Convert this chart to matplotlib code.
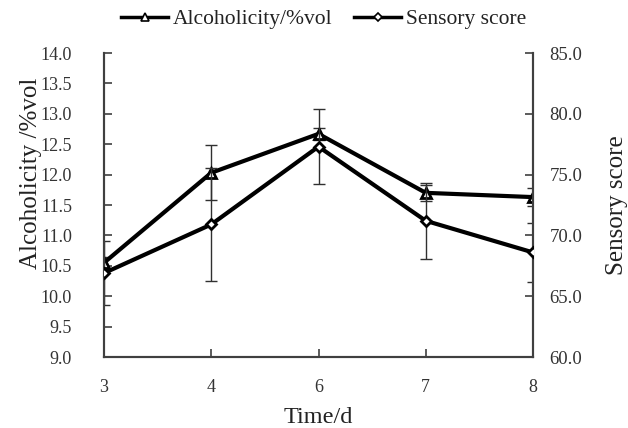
import matplotlib
matplotlib.use("Agg")
import matplotlib.pyplot as plt
from matplotlib.lines import Line2D

plt.rcParams['font.family'] = ['Liberation Serif', 'DejaVu Serif']

days = ['3', '4', '6', '7', '8']
alcohol = [10.55, 12.03, 12.67, 11.70, 11.63]
alcohol_err = [0.10, 0.45, 0.10, 0.13, 0.15]
sensory = [66.9, 70.9, 77.3, 71.2, 68.6]
sensory_err = [2.6, 4.65, 3.1, 3.1, 2.4]

left_ticks = [9.0, 9.5, 10.0, 10.5, 11.0, 11.5, 12.0, 12.5, 13.0, 13.5, 14.0]
right_ticks = [60.0, 65.0, 70.0, 75.0, 80.0, 85.0]

fig = plt.figure(figsize=(6.28, 4.28), dpi=100)
ax = fig.add_axes([104/628, 1-357/428, (533-104)/628, (357-53)/428])
ax2 = ax.twinx()

x = list(range(len(days)))
spine_c = '#404040'
err_c = '#303030'

ax2.errorbar(x, sensory, yerr=sensory_err, fmt='none', ecolor=err_c,
             elinewidth=1.0, capsize=4.5, capthick=1.0, zorder=2)
ax2.plot(x, sensory, color='black', lw=3.0, marker='D', ms=5.5,
         mfc='white', mec='black', mew=2.0, zorder=3)

ax.errorbar(x, alcohol, yerr=alcohol_err, fmt='none', ecolor=err_c,
            elinewidth=1.0, capsize=4.5, capthick=1.0, zorder=2)
ax.plot(x, alcohol, color='black', lw=3.0, marker='^', ms=7,
        mfc='white', mec='black', mew=2.0, zorder=3)

ax.set_xlim(0, len(days)-1)
ax.set_ylim(9.0, 14.0)
ax2.set_ylim(60.0, 85.0)
ax.set_xticks(x)
ax.set_xticklabels(days)
ax.set_yticks(left_ticks)
ax.set_yticklabels([f'{v:.1f}' for v in left_ticks])
ax2.set_yticks(right_ticks)
ax2.set_yticklabels([f'{v:.1f}' for v in right_ticks])

for a in (ax, ax2):
    a.spines['top'].set_visible(False)
    for s in ('left', 'right', 'bottom'):
        a.spines[s].set_color(spine_c)
        a.spines[s].set_linewidth(1.5)
    a.patch.set_visible(False)

ax.tick_params(axis='y', direction='in', length=6, width=1.2, color=spine_c,
               labelsize=13, pad=23, colors='#333333')
ax.tick_params(axis='x', direction='in', length=6, width=1.2, color=spine_c,
               labelsize=13, pad=16, colors='#333333')
ax2.tick_params(axis='y', direction='in', length=6, width=1.2, color=spine_c,
                labelsize=13.5, pad=12, colors='#333333')

ax.set_xlabel('Time/d', fontsize=17.5, color='#222222', labelpad=8)
ax.set_ylabel('Alcoholicity /%vol', fontsize=18, color='#222222')
ax.yaxis.set_label_coords((42-104)/429, (357-173)/304)
ax2.set_ylabel('Sensory score', fontsize=18, color='#222222')
ax2.yaxis.set_label_coords((606-104)/429, 0.5)

handles = [
    Line2D([], [], color='black', lw=2.5, marker='^', ms=6, mfc='white', mec='black', mew=1.2),
    Line2D([], [], color='black', lw=2.5, marker='D', ms=4, mfc='white', mec='black', mew=1.2),
]
fig.legend(handles, ['Alcoholicity/%vol', 'Sensory score'], loc='center',
           bbox_to_anchor=(0.515, 1-19/428), ncol=2, frameon=False,
           fontsize=15.5, handlelength=2.2, columnspacing=1.0, handletextpad=0.2,
           labelcolor='#222222')

fig.savefig('out.png', dpi=100)
